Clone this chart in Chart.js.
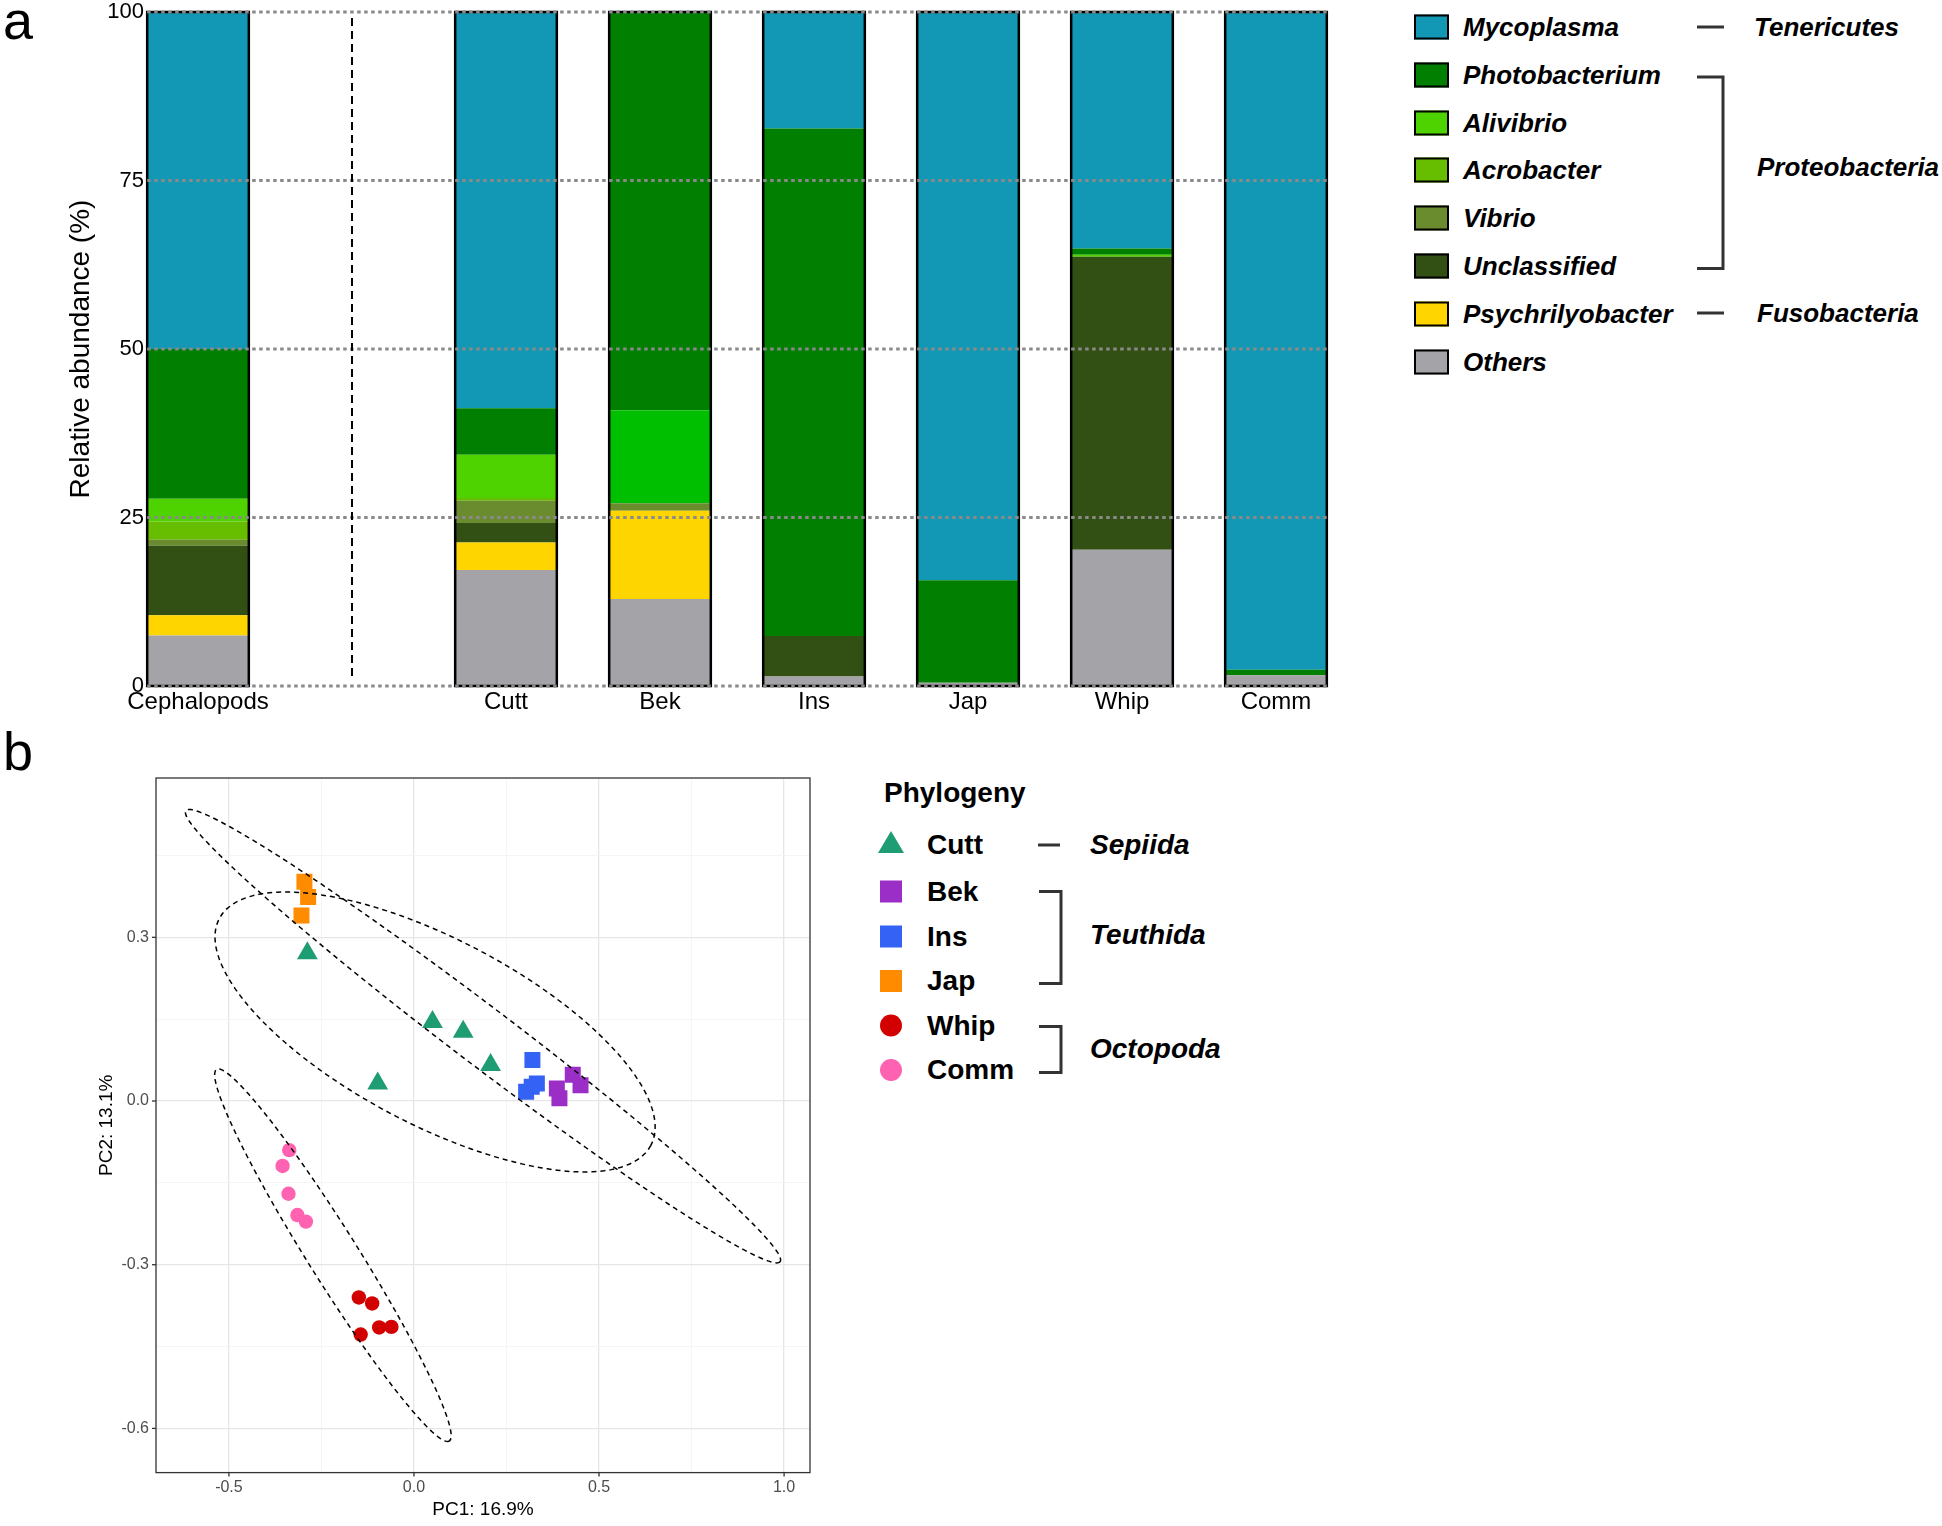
<!DOCTYPE html>
<html>
<head>
<meta charset="utf-8">
<script src="https://cdn.jsdelivr.net/npm/chart.js@4.4.1/dist/chart.umd.min.js"></script>
<style>
  body { margin: 0; background: #fff; width: 1942px; height: 1526px; overflow: hidden; position: relative;
         font-family: "Liberation Sans", Arial, sans-serif; color: #000; }
  .box { position: absolute; }
  .txt { position: absolute; white-space: nowrap; line-height: 1; transform: translateY(-50%); }
  .gen { font-size: 26px; font-weight: bold; font-style: italic; }
  .grp { font-size: 28px; font-weight: bold; }
  .swatch { position: absolute; width: 35px; height: 25px; border: 2.5px solid #000; box-sizing: border-box; transform: translateY(-50%); }
  .letter { position: absolute; font-size: 54px; line-height: 1; }
</style>
</head>
<body>
<div class="letter" style="left:3px;top:-7px">a</div>
<div class="letter" style="left:3px;top:724px">b</div>

<div class="box" style="left:0;top:0;width:1400px;height:730px"><canvas id="barChart"></canvas></div>
<div class="box" style="left:0;top:740px;width:860px;height:786px"><canvas id="pcaChart"></canvas></div>

<div id="legendA"></div>
<div id="legendB"></div>
<svg class="box" style="left:0;top:0" width="1942" height="1526" id="marks"></svg>

<script>
// ---- panel a : relative abundance ----
var samples = ["Cephalopods", "", "Cutt", "Bek", "Ins", "Jap", "Whip", "Comm"];

var others           = [7.5, null, 17.2, 12.9, 1.4, 0.5, 20.2, 1.6];
var psychrilyobacter = [3.0, null, 4.1, 13.1, 0, 0, 0, 0];
var unclassified     = [10.3, null, 2.9, 0, 6.0, 0, 43.5, 0];
var vibrio           = [0.9, null, 3.3, 1.1, 0, 0, 0, 0];
var acrobacter       = [2.7, null, 0.4, 0, 0, 0, 0, 0];
var alivibrio        = [3.4, null, 6.4, 13.8, 0, 0, 0.3, 0];
var photobacterium   = [22.2, null, 6.9, 59.1, 75.3, 15.2, 0.9, 0.8];
var mycoplasma       = [50.0, null, 58.8, 0, 17.3, 84.3, 35.1, 97.6];

var yTicksA = [0, 25, 50, 75, 100];

// bottom to top of each stack
var generaNames = ["Others", "Psychrilyobacter", "Unclassified", "Vibrio", "Acrobacter", "Alivibrio", "Photobacterium", "Mycoplasma"];
var generaValues = [others, psychrilyobacter, unclassified, vibrio, acrobacter, alivibrio, photobacterium, mycoplasma];
var generaColours = ["#a3a3a8", "#ffd500", "#335014", "#6a8c2e", "#67bd00", "#4fd300", "#007f00", "#1298b4"];
var alivibrioBarColours = ["#4fd300", "#4fd300", "#4fd300", "#00bf00", "#4fd300", "#4fd300", "#4fd300", "#4fd300"];

var phylaNames = ["Tenericutes", "Proteobacteria", "Fusobacteria"];

// ---- panel b : PCoA ----
var groupNames = ["Cutt", "Bek", "Ins", "Jap", "Whip", "Comm"];
var cuttPoints = [[-0.288, 0.271], [0.050, 0.145], [0.133, 0.127], [0.207, 0.066], [-0.098, 0.032]];
var bekPoints  = [[0.386, 0.023], [0.393, 0.005], [0.429, 0.048], [0.450, 0.029]];
var insPoints  = [[0.320, 0.075], [0.332, 0.032], [0.318, 0.026], [0.303, 0.017]];
var japPoints  = [[-0.296, 0.402], [-0.286, 0.374], [-0.304, 0.340]];
var whipPoints = [[-0.149, -0.360], [-0.113, -0.371], [-0.144, -0.428], [-0.094, -0.415], [-0.061, -0.414]];
var commPoints = [[-0.337, -0.090], [-0.355, -0.119], [-0.339, -0.170], [-0.315, -0.209], [-0.292, -0.221]];
var groupPoints = [cuttPoints, bekPoints, insPoints, japPoints, whipPoints, commPoints];
var groupColours = ["#1e9c73", "#9a2ec6", "#3362f4", "#ff8c00", "#d20000", "#ff62b0"];
var groupShapes = ["triangle", "rect", "rect", "rect", "circle", "circle"];

var orderNames = ["Sepiida", "Teuthida", "Octopoda"];
// confidence ellipses: centre, semi-major and semi-minor vectors (data units)
var ellipseCentres = [[0.057, 0.1265], [0.1865, 0.1188], [-0.219, -0.2826]];
var ellipseMajor   = [[0.583, -0.2077], [0.8027, -0.4133], [0.3143, -0.3405]];
var ellipseMinor   = [[-0.1168, -0.1505], [-0.0473, -0.0423], [-0.0573, -0.0243]];

var pc1Label = "PC1: 16.9%";
var pc2Label = "PC2: 13.1%";

var FONT = "'Liberation Sans', Arial, sans-serif";
Chart.defaults.font.family = FONT;
Chart.defaults.color = "#000";
Chart.defaults.animation = false;

// bar outlines, dotted grid and the separator line
var barDecor = {
    id: "barDecor",
    afterDatasetsDraw: function (chart) {
        var ctx = chart.ctx, xs = chart.scales.x, ys = chart.scales.y;
        var bars = chart.getDatasetMeta(0).data;
        var top = ys.getPixelForValue(100), bottom = ys.getPixelForValue(0);
        ctx.save();
        ctx.strokeStyle = "#000";
        ctx.lineWidth = 2.5;
        samples.forEach(function (s, i) {
            if (!s) return;
            var b = bars[i];
            ctx.strokeRect(b.x - b.width / 2, top, b.width, bottom - top);
        });
        var first = bars[0], last = bars[samples.length - 1];
        var x0 = first.x - first.width / 2, x1 = last.x + last.width / 2;
        ctx.strokeStyle = "#8a8a8a";
        ctx.lineWidth = 3;
        ctx.setLineDash([3.5, 3.5]);
        yTicksA.forEach(function (v) {
            var y = ys.getPixelForValue(v);
            ctx.beginPath(); ctx.moveTo(x0, y); ctx.lineTo(x1, y); ctx.stroke();
        });
        var gx = xs.getPixelForValue(samples.indexOf(""));
        ctx.strokeStyle = "#000";
        ctx.lineWidth = 2;
        ctx.setLineDash([8, 5]);
        ctx.beginPath(); ctx.moveTo(gx, top + 6); ctx.lineTo(gx, bottom - 7); ctx.stroke();
        ctx.restore();
    }
};

var barDatasets = generaNames.map(function (name, k) {
    return {
        label: name,
        data: generaValues[k],
        backgroundColor: name === "Alivibrio" ? alivibrioBarColours : generaColours[k],
        borderWidth: 0,
        barPercentage: 0.66,
        categoryPercentage: 1,
        clip: false
    };
});

new Chart(document.getElementById("barChart").getContext("2d"), {
    type: "bar",
    data: { labels: samples, datasets: barDatasets },
    options: {
        responsive: true,
        maintainAspectRatio: false,
        layout: { padding: { top: 12, right: 124, left: 0, bottom: 0 } },
        plugins: { legend: { display: false }, tooltip: { enabled: false } },
        scales: {
            x: {
                stacked: true,
                offset: false,
                grid: { display: false, drawTicks: false },
                border: { display: false },
                ticks: { font: { size: 24 }, color: "#000", padding: 2, maxRotation: 0, autoSkip: false },
                afterFit: function (s) { s.height = 44; s.paddingLeft = 0; s.paddingRight = 0; }
            },
            y: {
                stacked: true,
                min: 0, max: 100,
                grid: { display: false, drawTicks: false },
                border: { display: false },
                ticks: { stepSize: 25, font: { size: 22 }, color: "#000", padding: 54 },
                title: { display: true, text: "Relative abundance (%)", font: { size: 28 }, color: "#000", padding: { top: 64, bottom: 0 } },
                afterFit: function (s) { s.width = 198; s.paddingTop = 0; s.paddingBottom = 0; }
            }
        }
    },
    plugins: [barDecor]
});

// ellipses, panel border and tick marks
var pcaDecor = {
    id: "pcaDecor",
    afterDatasetsDraw: function (chart) {
        var ctx = chart.ctx, xs = chart.scales.x, ys = chart.scales.y, a = chart.chartArea;
        ctx.save();
        ctx.strokeStyle = "#000";
        ctx.lineWidth = 1.5;
        ctx.setLineDash([5, 4]);
        ellipseCentres.forEach(function (c, k) {
            var M = ellipseMajor[k], m = ellipseMinor[k];
            ctx.beginPath();
            for (var j = 0; j <= 240; j++) {
                var t = j / 240 * 2 * Math.PI;
                var px = xs.getPixelForValue(c[0] + M[0] * Math.cos(t) + m[0] * Math.sin(t));
                var py = ys.getPixelForValue(c[1] + M[1] * Math.cos(t) + m[1] * Math.sin(t));
                if (j === 0) ctx.moveTo(px, py); else ctx.lineTo(px, py);
            }
            ctx.closePath();
            ctx.stroke();
        });
        ctx.setLineDash([]);
        ctx.strokeStyle = "#333";
        ctx.lineWidth = 1.3;
        ctx.strokeRect(a.left, a.top, a.right - a.left, a.bottom - a.top);
        xs.ticks.forEach(function (t) {
            if (!isMajor(t.value, 0.5)) return;
            var x = xs.getPixelForValue(t.value);
            ctx.beginPath(); ctx.moveTo(x, a.bottom); ctx.lineTo(x, a.bottom + 4); ctx.stroke();
        });
        ys.ticks.forEach(function (t) {
            if (!isMajor(t.value, 0.3)) return;
            var y = ys.getPixelForValue(t.value);
            ctx.beginPath(); ctx.moveTo(a.left - 4, y); ctx.lineTo(a.left, y); ctx.stroke();
        });
        ctx.restore();
    }
};

function isMajor(v, step) {
    return Math.abs(v / step - Math.round(v / step)) < 1e-6;
}

var pcaDatasets = groupNames.map(function (name, k) {
    var shape = groupShapes[k];
    return {
        label: name,
        data: groupPoints[k].map(function (p) { return { x: p[0], y: p[1] }; }),
        pointStyle: shape,
        pointRadius: shape === "triangle" ? 12 : (shape === "rect" ? 11.3 : 7.2),
        backgroundColor: groupColours[k],
        borderColor: groupColours[k],
        borderWidth: 0
    };
});

new Chart(document.getElementById("pcaChart").getContext("2d"), {
    type: "scatter",
    data: { datasets: pcaDatasets },
    options: {
        responsive: true,
        maintainAspectRatio: false,
        layout: { padding: { top: 38, right: 50, left: 0, bottom: 0 } },
        plugins: { legend: { display: false }, tooltip: { enabled: false } },
        scales: {
            x: {
                type: "linear",
                min: -0.697, max: 1.07,
                grid: {
                    drawTicks: false,
                    color: function (c) { return isMajor(c.tick.value, 0.5) ? "#e6e6e6" : "#f2f2f2"; },
                    lineWidth: function (c) { return isMajor(c.tick.value, 0.5) ? 1.3 : 0.8; }
                },
                border: { display: false },
                ticks: {
                    stepSize: 0.25, includeBounds: false, autoSkip: false, maxRotation: 0,
                    font: { size: 16 }, color: "#4d4d4d", padding: 5,
                    callback: function (v) { return isMajor(v, 0.5) ? v.toFixed(1) : ""; }
                },
                title: { display: true, text: pc1Label, font: { size: 19 }, color: "#000", padding: { top: 0, bottom: 5 } },
                afterFit: function (s) { s.height = 53.4; }
            },
            y: {
                type: "linear",
                min: -0.681, max: 0.592,
                grid: {
                    drawTicks: false,
                    color: function (c) { return isMajor(c.tick.value, 0.3) ? "#e6e6e6" : "#f2f2f2"; },
                    lineWidth: function (c) { return isMajor(c.tick.value, 0.3) ? 1.3 : 0.8; }
                },
                border: { display: false },
                ticks: {
                    stepSize: 0.15, includeBounds: false, autoSkip: false,
                    font: { size: 16 }, color: "#4d4d4d", padding: 7,
                    callback: function (v) { return isMajor(v, 0.3) ? v.toFixed(1) : ""; }
                },
                title: { display: true, text: pc2Label, font: { size: 19 }, color: "#000", padding: { top: 95, bottom: 0 } },
                afterFit: function (s) { s.width = 156; }
            }
        }
    },
    plugins: [pcaDecor]
});

// ---- legends (html text + svg marks) ----
var svgNS = "http://www.w3.org/2000/svg";
var marks = document.getElementById("marks");
function svgEl(tag, attrs) {
    var e = document.createElementNS(svgNS, tag);
    for (var k in attrs) e.setAttribute(k, attrs[k]);
    marks.appendChild(e);
    return e;
}
function addText(parent, cls, text, left, cy) {
    var d = document.createElement("div");
    d.className = "txt " + cls;
    d.style.left = left + "px";
    d.style.top = cy + "px";
    d.textContent = text;
    document.getElementById(parent).appendChild(d);
    return d;
}

// legend a, top to bottom
var legA = document.getElementById("legendA");
for (var i = 0; i < generaNames.length; i++) {
    var k = generaNames.length - 1 - i;
    var cy = 27 + i * 47.8;
    var sw = document.createElement("div");
    sw.className = "swatch";
    sw.style.left = "1414px";
    sw.style.top = cy + "px";
    sw.style.background = generaColours[k];
    legA.appendChild(sw);
    addText("legendA", "gen", generaNames[k], 1463, cy);
}
var bracketStyle = { stroke: "#333", "stroke-width": 3, fill: "none" };
function withStyle(o) { for (var k in bracketStyle) o[k] = bracketStyle[k]; return o; }
svgEl("path", withStyle({ d: "M1697,27 H1724" }));
svgEl("path", withStyle({ d: "M1697,77 H1723 V268.5 H1697" }));
svgEl("path", withStyle({ d: "M1697,313 H1724" }));
addText("legendA", "gen", phylaNames[0], 1754, 27);
addText("legendA", "gen", phylaNames[1], 1757, 167);
addText("legendA", "gen", phylaNames[2], 1757, 313);

// legend b
addText("legendB", "grp", "Phylogeny", 884, 793);
var legRowsB = [845, 891.5, 936.5, 981, 1025.5, 1070];
groupNames.forEach(function (name, k) {
    var cy = legRowsB[k], cx = 891, col = groupColours[k];
    if (groupShapes[k] === "triangle") {
        svgEl("polygon", { points: (cx - 13) + "," + (cy + 8) + " " + (cx + 13) + "," + (cy + 8) + " " + cx + "," + (cy - 14), fill: col });
    } else if (groupShapes[k] === "rect") {
        svgEl("rect", { x: cx - 11, y: cy - 11, width: 22, height: 22, fill: col });
    } else {
        svgEl("circle", { cx: cx, cy: cy, r: 11, fill: col });
    }
    addText("legendB", "grp", name, 927, cy);
});
svgEl("path", withStyle({ d: "M1038,845 H1060" }));
svgEl("path", withStyle({ d: "M1039,891.5 H1061 V983.5 H1039" }));
svgEl("path", withStyle({ d: "M1039,1026.5 H1061 V1072.5 H1039" }));
addText("legendB", "grp", orderNames[0], 1090, 845).style.fontStyle = "italic";
addText("legendB", "grp", orderNames[1], 1090, 935).style.fontStyle = "italic";
addText("legendB", "grp", orderNames[2], 1090, 1049).style.fontStyle = "italic";
</script>
</body>
</html>
